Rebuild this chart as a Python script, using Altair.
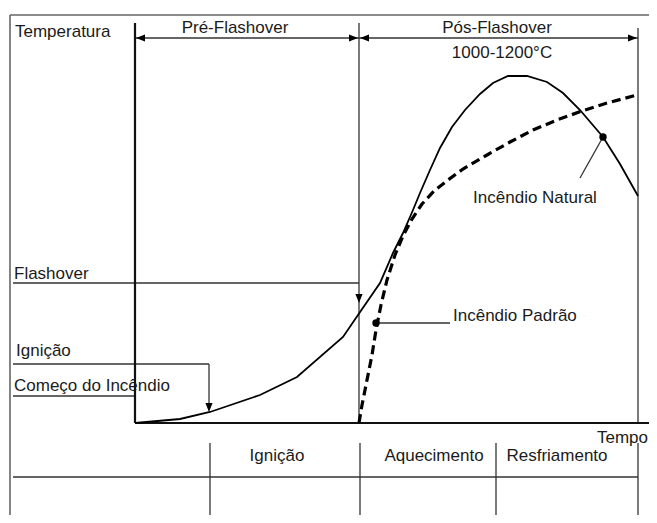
import altair as alt
import pandas as pd

# ---- Diagram data (time / temperature in arbitrary diagram units) ----
# Natural fire curve
natural_time = [0, 45, 75, 125, 162, 208, 223, 245, 258, 268, 278, 285, 295, 305,
                317, 330, 345, 358, 373, 392, 412, 428, 445, 468, 485, 503]
natural_temp = [1, 5, 12, 29, 47, 87, 109, 141, 171, 191, 214, 231, 254, 276,
                297, 314, 330, 341, 348, 348, 342, 331, 314, 287, 260, 228]
# Standard fire curve (dashed)
std_time = [224, 227, 231, 237, 241, 246, 252, 260, 268, 277, 287, 299, 313, 328,
            352, 375, 398, 422, 447, 472, 502]
std_temp = [1, 19, 39, 69, 94, 119, 144, 169, 188, 205, 220, 233, 244, 255,
            269, 282, 294, 304, 313, 321, 329]

# Key times
t_ignition = 74
t_flashover = 224
t_cooling = 361
t_end = 503
t_axis_end = 518
t_label = -122
T_top = 401

# Thin guide segments (x, y, x2, y2)
seg_x1 = [t_flashover, t_end, 0, t_flashover, t_label, t_label, t_ignition, t_label,
          468, 241, 75, 225, t_cooling, t_end, t_label]
seg_y1 = [1, 1, 386, 386, 141, 60, 60, 28, 287, 101, -19, -19, -19, -19, -53]
seg_x2 = [t_flashover, t_end, t_flashover, t_end, t_flashover, t_ignition, t_ignition, 0,
          445, 315, 75, 225, t_cooling, t_end, t_end]
seg_y2 = [T_top, 396, 386, 386, 141, 60, 14, 28, 246, 101, -99, -99, -99, -99, -53]

# Axes segments
axis_x1 = [0, 0]
axis_y1 = [1, 1]
axis_x2 = [0, t_axis_end]
axis_y2 = [T_top, 1]

# Frame segments
frame_x1 = [-125, -125]
frame_y1 = [409, 409]
frame_x2 = [-125, 522]
frame_y2 = [-99, 409]

# Arrow heads
arrow_right_x = [223, 502]
arrow_right_y = [386, 386]
arrow_left_x = [1, 225]
arrow_left_y = [386, 386]
arrow_down_x = [t_flashover, t_ignition]
arrow_down_y = [121, 12]

# Marker dots
dot_x = [468, 241]
dot_y = [287, 101]

# Labels
left_text = ["Temperatura", "Flashover", "Ignição", "Começo do Incêndio",
             "Incêndio Padrão"]
left_x = [-120, -121, -119, -121, 318]
left_y = [392, 150, 73, 38, 108]

right_text = ["Tempo"]
right_x = [513]
right_y = [-14]

center_text = ["Pré-Flashover", "Pós-Flashover", "1000-1200°C", "Incêndio Natural",
               "Ignição", "Aquecimento", "Resfriamento"]
center_x = [100, 362, 367, 400, 142, 299, 422]
center_y = [396, 396, 371, 226, -32, -32, -32]

# ---- Scales ----
xs = alt.Scale(domain=[-127, 514], nice=False, zero=False)
ys = alt.Scale(domain=[-91, 416], nice=False, zero=False)


def X(f):
    return alt.X(f, type="quantitative", scale=xs, axis=None)


def Y(f):
    return alt.Y(f, type="quantitative", scale=ys, axis=None)


def segs(x1, y1, x2, y2, color, width):
    df = pd.DataFrame({"x": x1, "y": y1, "x2": x2, "y2": y2})
    return alt.Chart(df).mark_rule(color=color, strokeWidth=width).encode(
        x=X("x"), y=Y("y"), x2="x2", y2="y2")


FONT = "Liberation Sans"
FS = 17
TXT = "#1b1b1b"

natural = alt.Chart(pd.DataFrame({"t": natural_time, "T": natural_temp})).mark_line(
    color="#000000", strokeWidth=1.8).encode(x=X("t"), y=Y("T"))
standard = alt.Chart(pd.DataFrame({"t": std_time, "T": std_temp})).mark_line(
    color="#000000", strokeWidth=3.2, strokeDash=[9, 5]).encode(x=X("t"), y=Y("T"))

frame = segs(frame_x1, frame_y1, frame_x2, frame_y2, "#666666", 1.6)
thin = segs(seg_x1, seg_y1, seg_x2, seg_y2, "#333333", 1.3)
axes = segs(axis_x1, axis_y1, axis_x2, axis_y2, "#111111", 2.2)


def heads(xv, yv, path):
    df = pd.DataFrame({"x": xv, "y": yv})
    return alt.Chart(df).mark_point(shape=path, filled=True, color="#000000",
                                    size=81, opacity=1).encode(x=X("x"), y=Y("y"))


ar = heads(arrow_right_x, arrow_right_y, "M0,0 L-2,-0.8 L-2,0.8 Z")
al = heads(arrow_left_x, arrow_left_y, "M0,0 L2,-0.8 L2,0.8 Z")
ad = heads(arrow_down_x, arrow_down_y, "M0,0 L-0.8,-2 L0.8,-2 Z")

dots = alt.Chart(pd.DataFrame({"x": dot_x, "y": dot_y})).mark_point(
    shape="circle", filled=True, color="#000000", size=55, opacity=1).encode(
    x=X("x"), y=Y("y"))


def texts(xv, yv, sv, align):
    df = pd.DataFrame({"x": xv, "y": yv, "s": sv})
    return alt.Chart(df).mark_text(
        align=align, baseline="middle", font=FONT, fontSize=FS, color=TXT).encode(
        x=X("x"), y=Y("y"), text="s:N")


ltext = texts(left_x, left_y, left_text, "left")
rtext = texts(right_x, right_y, right_text, "right")
ctext = texts(center_x, center_y, center_text, "center")

chart = alt.layer(frame, thin, axes, natural, standard, ar, al, ad, dots,
                  ltext, rtext, ctext).properties(
    width=641, height=507,
    autosize=alt.AutoSizeParams(type="none"),
    padding=0,
    background="white",
).configure_view(stroke=None)

chart.save("out.html", embed_options={"renderer": "svg", "actions": False})
